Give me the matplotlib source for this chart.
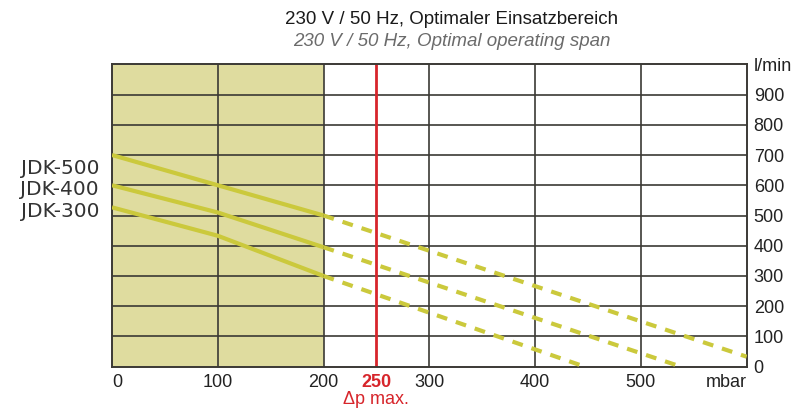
import numpy as np
import matplotlib
matplotlib.use("Agg")
import matplotlib.pyplot as plt

plt.rcParams["font.family"] = ["Liberation Sans", "DejaVu Sans"]

# -------------------------
# Data
# -------------------------
models = ["JDK-500", "JDK-400", "JDK-300"]
# optimal range (solid), mbar vs l/min
solid_x = [0, 100, 200]
solid_y = {
    "JDK-500": [700, 600, 500],
    "JDK-400": [600, 510, 395],
    "JDK-300": [527, 433, 300],
}
# beyond optimal range (dashed)
dash_x = {
    "JDK-500": [200, 600],
    "JDK-400": [200, 538],
    "JDK-300": [200, 447],
}
dash_y = {
    "JDK-500": [500, 33],
    "JDK-400": [395, 0],
    "JDK-300": [300, 0],
}
optimal_span = (0, 200)
dp_max = 250
x_ticks = [0, 100, 200, 250, 300, 400, 500, 600]
x_ticklabels = ["0", "100", "200", "250", "300", "400", "500", "mbar"]
y_ticks = [0, 100, 200, 300, 400, 500, 600, 700, 800, 900, 1000]
y_ticklabels = ["0", "100", "200", "300", "400", "500", "600", "700", "800", "900", "l/min"]

line_color = "#cbc93c"
span_color = "#dfdc9f"
grid_color = "#3b3935"
red = "#d7252b"

W, H = 800, 408
fig = plt.figure(figsize=(W / 100, H / 100), dpi=100)
ax = fig.add_axes([112 / W, 1 - 366.7 / H, (746.7 - 112) / W, (366.7 - 64.3) / H])

ax.set_xlim(0, 600)
ax.set_ylim(0, 1000)

# shaded optimal operating span
ax.axvspan(*optimal_span, color=span_color, zorder=0, lw=0)

# grid
for xv in [100, 200, 300, 400, 500]:
    ax.axvline(xv, color=grid_color, lw=1.2, zorder=1)
for yv in y_ticks[1:-1]:
    ax.axhline(yv, color=grid_color, lw=1.2, zorder=1)
for s in ax.spines.values():
    s.set_color(grid_color)
    s.set_linewidth(1.4)

# dp max line
ax.axvline(dp_max, color=red, lw=2.0, zorder=2)

# curves
for m in models:
    ax.plot(solid_x, solid_y[m], color=line_color, lw=3.0, solid_capstyle="butt", zorder=3)
    ax.plot(dash_x[m], dash_y[m], color=line_color, lw=3.0, dashes=(2.6, 2.2), zorder=3)

# ticks
ax.set_xticks(x_ticks)
ax.set_xticklabels(x_ticklabels)
ax.set_yticks(y_ticks)
ax.set_yticklabels(y_ticklabels)
ax.yaxis.tick_right()
ax.tick_params(axis="both", length=0, labelsize=13, colors="#222222")
ax.tick_params(axis="x", pad=5)
ax.tick_params(axis="y", pad=5)

xl = ax.get_xticklabels()
xl[0].set_ha("left")
xl[3].set_color(red)
xl[3].set_fontweight("bold")
xl[-1].set_ha("right")

# titles
fig.text(452 / W, 1 - 20 / H, "230 V / 50 Hz, Optimaler Einsatzbereich",
         ha="center", va="center", fontsize=13.5, color="#1a1a1a")
fig.text(452 / W, 1 - 42 / H, "230 V / 50 Hz, Optimal operating span",
         ha="center", va="center", fontsize=13.5, color="#6b6b6b", style="italic")

# model labels
label_y = [168.5, 189.5, 211.5]
for m, ly in zip(models, label_y):
    fig.text(99 / W, 1 - ly / H, m, ha="right", va="center", fontsize=14.5,
             color="#333333", family=["DejaVu Sans"])

fig.text(376 / W, 1 - 399 / H, "Δp max.", ha="center", va="center",
         fontsize=13, color=red)

fig.savefig("out.png", dpi=100)
